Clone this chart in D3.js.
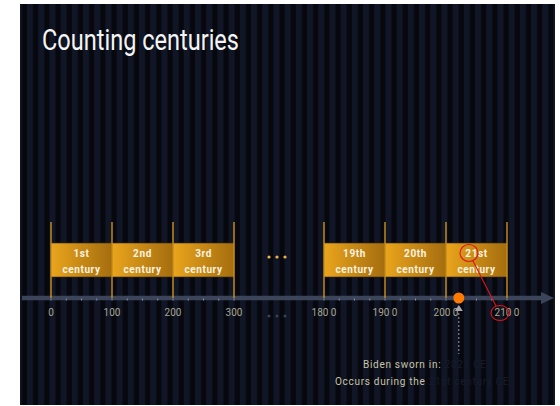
<!DOCTYPE html>
<html lang="en">
<head>
<meta charset="UTF-8" />
<script src="https://d3js.org/d3.v7.min.js"></script>
<title>Counting centuries</title>
<style>
  body { margin: 0; background: #fff; }
  svg { display: block; }
</style>
</head>
<body>
<script>
// data
var centuryNames = ["1st", "2nd", "3rd", "19th", "20th", "21st"];
var centuryStarts = [0, 100, 200, 1800, 1900, 2000];
var tickValues = [0, 100, 200, 300, 1800, 1900, 2000, 2100];
var tickLabels = ["0", "100", "200", "300", "180 0", "190 0", "200 0", "210 0"];
var minorStep = 25;
var eventYear = 2021;
var eventLines = [["Biden sworn in: ", "2021 CE"], ["Occurs during the ", "21st century CE"]];

var W = 560, H = 406;
var svg = d3.select("body").append("svg").attr("width", W).attr("height", H);
var defs = svg.append("defs");

// striped background
var pat = defs.append("pattern").attr("id", "stripes").attr("patternUnits", "userSpaceOnUse")
  .attr("x", 27).attr("y", 0).attr("width", 11.2).attr("height", 10);
pat.append("rect").attr("width", 11.2).attr("height", 10).attr("fill", "#06080e");
pat.append("rect").attr("width", 6).attr("height", 10).attr("fill", "#111627");

var grad = defs.append("linearGradient").attr("id", "barGrad").attr("x1", "0%").attr("x2", "100%");
grad.append("stop").attr("offset", "0%").attr("stop-color", "#eaa51c");
grad.append("stop").attr("offset", "100%").attr("stop-color", "#a46d0f");

svg.append("rect").attr("x", 20).attr("y", 4).attr("width", 535).attr("height", 401).attr("fill", "url(#stripes)");

svg.append("text").attr("x", 42).attr("y", 50)
  .attr("font-family", "Roboto, sans-serif").attr("font-size", 29)
  .attr("textLength", 197).attr("lengthAdjust", "spacingAndGlyphs")
  .attr("fill", "#f4f4f4").text("Counting centuries");

// broken scale: two segments
var x = d3.scaleLinear().domain([0, 300, 1800, 2100]).range([51, 234, 324, 507]);
var axisY = 298, barTop = 243, barBot = 277;

// axis line + arrow
svg.append("line").attr("x1", 22).attr("x2", 543).attr("y1", axisY).attr("y2", axisY)
  .attr("stroke", "#3b4458").attr("stroke-width", 4.5);
svg.append("path").attr("d", "M541," + (axisY - 6) + "L554," + axisY + "L541," + (axisY + 6) + "Z")
  .attr("fill", "#3b4458");

// century bars
var bars = svg.append("g").selectAll("g").data(centuryStarts).join("g");
bars.append("rect")
  .attr("x", function(d) { return x(d); })
  .attr("width", function(d) { return x(d + 100) - x(d); })
  .attr("y", barTop).attr("height", barBot - barTop)
  .attr("fill", "url(#barGrad)").attr("stroke", "#3a2a08").attr("stroke-width", 0.6);
bars.append("text")
  .attr("x", function(d) { return (x(d) + x(d + 100)) / 2; })
  .attr("text-anchor", "middle").attr("font-family", "Roboto, sans-serif")
  .attr("font-weight", "bold").attr("font-size", 10).attr("letter-spacing", 0.6)
  .attr("fill", "#fbf4e4")
  .each(function(d, i) {
    var t = d3.select(this);
    t.append("tspan").attr("y", 257).text(centuryNames[i]);
    t.append("tspan").attr("x", (x(d) + x(d + 100)) / 2).attr("y", 273).text("century");
  });

// vertical boundary lines
svg.append("g").selectAll("line").data(tickValues).join("line")
  .attr("x1", function(d) { return x(d); }).attr("x2", function(d) { return x(d); })
  .attr("y1", 222).attr("y2", axisY)
  .attr("stroke", "#dc9c1c").attr("stroke-width", 1.3);

// minor ticks
var minor = d3.range(0, 301, minorStep).concat(d3.range(1800, 2101, minorStep));
svg.append("g").selectAll("line").data(minor).join("line")
  .attr("x1", function(d) { return x(d); }).attr("x2", function(d) { return x(d); })
  .attr("y1", axisY + 0.5).attr("y2", axisY + 2.5)
  .attr("stroke", "#8a93a6").attr("stroke-width", 1);

// tick labels
svg.append("g").selectAll("text").data(tickValues).join("text")
  .attr("x", function(d) { return x(d); }).attr("y", 316)
  .attr("text-anchor", "middle").attr("font-family", "Roboto, sans-serif").attr("font-size", 10)
  .attr("fill", "#a8a690").text(function(d, i) { return tickLabels[i]; });

// ellipsis in the gap
var mid = (x(300) + x(1800)) / 2;
var dotsX = [mid - 10, mid - 2, mid + 6];
svg.append("g").selectAll("circle").data(dotsX).join("circle")
  .attr("cx", function(d) { return d; }).attr("cy", 257).attr("r", 1.6).attr("fill", "#e9b24a");
svg.append("g").selectAll("circle").data(dotsX).join("circle")
  .attr("cx", function(d) { return d; }).attr("cy", 316).attr("r", 1.5).attr("fill", "#3a4256");

// event marker
var ex = x(eventYear);
svg.append("line").attr("x1", ex).attr("x2", ex).attr("y1", 309).attr("y2", 354)
  .attr("stroke", "#9a9aa0").attr("stroke-width", 1).attr("stroke-dasharray", "2,2");
svg.append("path").attr("d", "M" + ex + ",305L" + (ex + 4) + ",311L" + (ex - 4) + ",311Z").attr("fill", "#a8a8ae");
svg.append("circle").attr("cx", ex).attr("cy", axisY).attr("r", 5.5).attr("fill", "#ff7a00");

// annotation text
var ann = svg.append("g").attr("font-family", "Roboto, sans-serif").attr("font-size", 10).attr("letter-spacing", 0.7);
var annStart = [363, 335], annY = [368, 385];
eventLines.forEach(function(l, i) {
  var t = ann.append("text").attr("x", annStart[i]).attr("y", annY[i]);
  t.append("tspan").attr("fill", "#c9c4a8").text(l[0]);
  t.append("tspan").attr("fill", "#181c29").text(l[1]);
});

// red hand-drawn circles
var red = svg.append("g").attr("fill", "none").attr("stroke", "#e0141a").attr("stroke-width", 1.1);
red.append("ellipse").attr("cx", 469).attr("cy", 253).attr("rx", 9).attr("ry", 8.5);
red.append("ellipse").attr("cx", 500).attr("cy", 313).attr("rx", 9).attr("ry", 7.5);
red.append("line").attr("x1", 473).attr("y1", 261).attr("x2", 496).attr("y2", 306);
</script>
</body>
</html>
